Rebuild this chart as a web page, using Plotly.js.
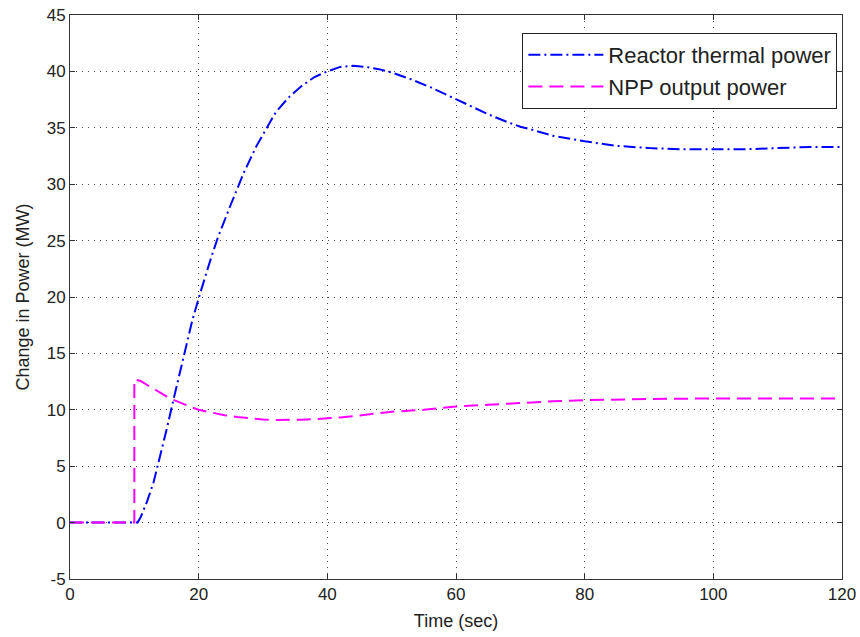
<!DOCTYPE html>
<html>
<head>
<meta charset="utf-8">
<script src="https://cdn.plot.ly/plotly-3.0.1.min.js"></script>
<style>html,body{margin:0;padding:0;background:#fff;}#chart{width:860px;height:637px;}</style>
</head>
<body>
<div id="chart"></div>
<script>
// Reactor thermal power (blue, dash-dot)
const timeReactor = [0,10,10.5,11,12,13,14,15,16,17,18,19,20,21,22,23,24,25,26,27,28,29,30,32,34,36,38,40,42,44,46,48,50,53,56,59,62,65,68,70,72,75,78,80,85,90,95,100,105,110,115,120];
const reactorPower = [0,0,0,0.5,1.9,3.6,5.8,8.2,10.7,13.2,15.6,17.9,19.9,21.8,23.6,25.3,26.8,28.2,29.6,31.0,32.2,33.4,34.4,36.4,37.7,38.7,39.5,40.0,40.4,40.5,40.4,40.2,39.9,39.3,38.6,37.8,37.0,36.2,35.5,35.1,34.8,34.3,34.0,33.8,33.4,33.2,33.1,33.1,33.1,33.2,33.3,33.3];
// NPP output power (magenta, dashed)
const timeNpp = [0,10,10,11,12,13,14,15,16,17,18,19,20,22,24,26,28,30,32,34,36,38,40,42,45,50,55,60,65,70,75,80,85,90,95,100,110,120];
const nppPower = [0,0,12.7,12.55,12.2,11.85,11.55,11.2,10.9,10.65,10.42,10.2,10.0,9.75,9.52,9.36,9.22,9.14,9.1,9.1,9.12,9.17,9.23,9.32,9.5,9.83,10.0,10.3,10.45,10.63,10.75,10.85,10.92,10.96,10.99,11.0,11.0,11.0];
const seriesNames = ["Reactor thermal power", "NPP output power"];
const xTicks = [0,20,40,60,80,100,120];
const yTicks = [-5,0,5,10,15,20,25,30,35,40,45];

const traces = [
  {x: timeReactor, y: reactorPower, name: seriesNames[0], mode: 'lines',
   line: {color: '#0000FF', width: 2, dash: '12px,4px,2px,4px'}},
  {x: timeNpp, y: nppPower, name: seriesNames[1], mode: 'lines',
   line: {color: '#FF00FF', width: 2, dash: '14px,7px'}}
];

const axisCommon = {
  showline: true, linecolor: '#333', linewidth: 1, mirror: 'ticks',
  ticks: 'inside', ticklen: 5, tickcolor: '#333', tickwidth: 1,
  showgrid: true, gridcolor: '#444', gridwidth: 1, griddash: '1px,5px',
  zeroline: false, tickfont: {size: 17, color: '#222'}
};

const layout = {
  width: 860, height: 637,
  margin: {l: 70, r: 18, t: 15, b: 58},
  paper_bgcolor: '#fff', plot_bgcolor: '#fff',
  font: {family: '"Liberation Sans", Arial, sans-serif', color: '#222'},
  showlegend: true,
  legend: {x: 0.994, y: 0.968, xanchor: 'right', yanchor: 'top',
           bordercolor: '#222', borderwidth: 1, bgcolor: '#fff',
           itemwidth: 75, tracegroupgap: 0,
           font: {size: 22, color: '#222'}},
  xaxis: Object.assign({}, axisCommon, {
    range: [0, 120], tickvals: xTicks, ticktext: xTicks.map(String),
    title: {text: 'Time (sec)', font: {size: 18}, standoff: 10}
  }),
  yaxis: Object.assign({}, axisCommon, {
    range: [-5, 45], tickvals: yTicks, ticktext: yTicks.map(String),
    title: {text: 'Change in Power (MW)', font: {size: 18}, standoff: 12}
  })
};

Plotly.newPlot('chart', traces, layout, {displayModeBar: false, staticPlot: true});
</script>
</body>
</html>
